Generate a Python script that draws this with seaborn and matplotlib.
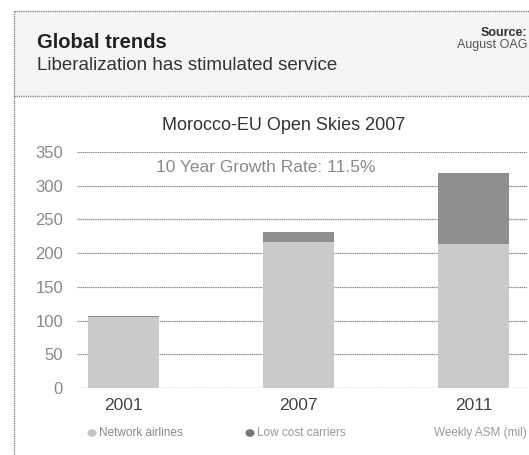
import matplotlib
matplotlib.use("Agg")
import matplotlib.pyplot as plt
from matplotlib.patches import Rectangle
from matplotlib.lines import Line2D
import pandas as pd
import seaborn as sns

# Weekly available seat miles (millions), Morocco-EU market
years = ["2001", "2007", "2011"]
network_airlines = [105, 216, 214]
low_cost_carriers = [1.5, 16, 105]
y_ticks = [0, 50, 100, 150, 200, 250, 300, 350]

sns.set_theme(style="white")
plt.rcParams["font.family"] = ["Liberation Sans", "DejaVu Sans"]

W, H = 529, 455
fig = plt.figure(figsize=(W / 100, H / 100), dpi=100)


def fx(px):
    return px / W


def fy(py):
    return 1 - py / H


# Outer frame and header band
fig.patches.append(Rectangle((fx(14), fy(96)), 1 - fx(14), fy(11) - fy(96),
                             transform=fig.transFigure, facecolor="#f5f5f5",
                             edgecolor="none", zorder=0))
for line in [
    Line2D([fx(14), 1], [fy(11), fy(11)]),
    Line2D([fx(14), 1], [fy(96), fy(96)]),
    Line2D([fx(14), fx(14)], [fy(11), 0]),
]:
    line.set_transform(fig.transFigure)
    line.set_color("#8a8a8a")
    line.set_linewidth(1.0)
    line.set_linestyle((0, (1, 0.6)))
    fig.lines.append(line)

fig.text(fx(37), fy(43), "Global trends", fontsize=14.5, fontweight="bold",
         color="#222222", va="center", ha="left")
fig.text(fx(37), fy(66), "Liberalization has stimulated service", fontsize=13.5,
         color="#333333", va="center", ha="left")
fig.text(fx(527), fy(33), "Source:", fontsize=9, fontweight="bold",
         color="#333333", va="center", ha="right")
fig.text(fx(527), fy(45), "August OAG", fontsize=9, color="#555555",
         va="center", ha="right")

# Plot area
ax = fig.add_axes([fx(77), fy(388), fx(527) - fx(77), fy(152) - fy(388)])

df = pd.DataFrame({
    "year": years,
    "network": network_airlines,
    "low_cost": low_cost_carriers,
})
df["total"] = df["network"] + df["low_cost"]

sns.barplot(data=df, x="year", y="total", color="#8e8e8e", width=0.405,
            saturation=1, linewidth=0, edgecolor="none", ax=ax, zorder=3)
sns.barplot(data=df, x="year", y="network", color="#cacaca", width=0.405,
            saturation=1, linewidth=0, edgecolor="none", ax=ax, zorder=4)

ax.set_ylim(0, 350)
ax.set_xlim(-0.266, 2.306)
ax.set_yticks(y_ticks)
ax.set_yticklabels([str(t) for t in y_ticks])
for t in y_ticks:
    ax.axhline(t, color="#8a8a8a", lw=0.9, ls=(0, (1, 0.5)), zorder=1)

for s in ax.spines.values():
    s.set_visible(False)
ax.set_xlabel("")
ax.set_ylabel("")
ax.tick_params(axis="y", length=0, pad=10, labelsize=12, labelcolor="#888888")
ax.tick_params(axis="x", length=0, pad=7, labelsize=12.5, labelcolor="#444444")
ax.set_facecolor("none")

fig.text(fx(284), fy(126), "Morocco-EU Open Skies 2007", fontsize=13,
         color="#333333", ha="center", va="center")
fig.text(fx(266), fy(167), "10 Year Growth Rate: 11.5%", fontsize=12.5,
         color="#8a8a8a", ha="center", va="center")

# Legend row
fig.patches.append(plt.Circle((fx(92), fy(433)), 0.0085, transform=fig.transFigure,
                              facecolor="#c4c4c4", edgecolor="none"))
fig.text(fx(99), fy(433), "Network airlines", fontsize=8.5, color="#888888",
         va="center", ha="left")
fig.patches.append(plt.Circle((fx(250), fy(433)), 0.0085, transform=fig.transFigure,
                              facecolor="#777777", edgecolor="none"))
fig.text(fx(257), fy(433), "Low cost carriers", fontsize=8.5, color="#999999",
         va="center", ha="left")
fig.text(fx(527), fy(433), "Weekly ASM (mil)", fontsize=8.5, color="#999999",
         va="center", ha="right")

fig.savefig("out.png", dpi=100)
